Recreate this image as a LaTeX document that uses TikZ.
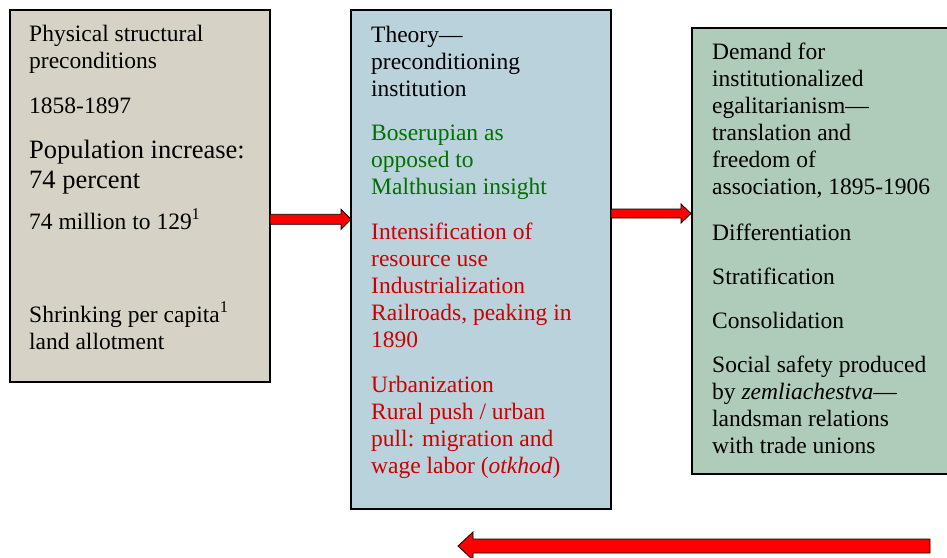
\documentclass[tikz,border=0pt]{standalone}
\usepackage{fontspec}
\setmainfont{LiberationSerif}[Extension=.ttf, UprightFont=*-Regular, ItalicFont=*-Italic, BoldFont=*-Bold, BoldItalicFont=*-BoldItalic]
\definecolor{physfill}{RGB}{214,211,198}
\definecolor{theofill}{RGB}{185,210,219}
\definecolor{demfill}{RGB}{175,203,185}
\definecolor{theogreen}{RGB}{0,112,0}
\definecolor{theored}{RGB}{204,0,0}
\definecolor{arrowred}{RGB}{255,0,0}

% horizontal block arrow: tail x, tip x, centre y, half body, half head, head length (signed)
\newcommand\hblockarrow[6]{%
  \draw[blockarrow] (#1,#3-#4) -- (#2-#6,#3-#4) -- (#2-#6,#3-#5) -- (#2,#3)
    -- (#2-#6,#3+#5) -- (#2-#6,#3+#4) -- (#1,#3+#4) -- cycle;}

\begin{document}
\begin{tikzpicture}[x=1pt,y=-1pt,
  panel/.style={draw=black, line width=1.5pt, inner sep=0pt, anchor=north west},
  txt/.style={anchor=base west, inner sep=0pt, font=\fontsize{23.5}{27}\selectfont, text=black},
  bigtxt/.style={txt, font=\fontsize{26.5}{30}\selectfont},
  greentxt/.style={txt, text=theogreen},
  redtxt/.style={txt, text=theored},
  blockarrow/.style={fill=arrowred, draw=black, line width=0.8pt, line join=miter}]
\clip (0,0) rectangle (947,557);
\fill[white] (0,0) rectangle (947,557);

% panels
\node[panel, fill=physfill, minimum width=260pt, minimum height=372pt] (phys) at (9,9) {};
\node[panel, fill=theofill, minimum width=260pt, minimum height=499pt] (theory) at (350,9) {};
\node[panel, fill=demfill, minimum width=300pt, minimum height=446pt] (demand) at (691,27) {};

% left panel text
\node[txt] (p1) at (29,41) {Physical structural};
\node[txt] (p2) at (29,68) {preconditions};
\node[txt] (p3) at (29,113) {1858-1897};
\node[bigtxt] (p4) at (29,158) {Population increase:};
\node[bigtxt] (p5) at (29,188) {74 percent};
\node[txt] (p6) at (29,229) {74 million to 129\textsuperscript{1}};
\node[txt] (p7) at (29,322) {Shrinking per capita\textsuperscript{1}};
\node[txt] (p8) at (29,349) {land allotment};

% middle panel text
\node[txt] (m1) at (371,42) {Theory---};
\node[txt] (m2) at (371,69) {preconditioning};
\node[txt] (m3) at (371,96) {institution};
\node[greentxt] (m4) at (371,140) {Boserupian as};
\node[greentxt] (m5) at (371,167) {opposed to};
\node[greentxt] (m6) at (371,194) {Malthusian insight};
\node[redtxt] (m7) at (371,239) {Intensification of};
\node[redtxt] (m8) at (371,266) {resource use};
\node[redtxt] (m9) at (371,293) {Industrialization};
\node[redtxt] (m10) at (371,320) {Railroads, peaking in};
\node[redtxt] (m11) at (371,347) {1890};
\node[redtxt] (m12) at (371,392) {Urbanization};
\node[redtxt] (m13) at (371,419) {Rural push / urban};
\node[redtxt] (m14) at (371,446) {pull: migration and};
\node[redtxt] (m15) at (371,473) {wage labor (\textit{otkhod})};

% right panel text
\node[txt] (r1) at (712,59) {Demand for};
\node[txt] (r2) at (712,86) {institutionalized};
\node[txt] (r3) at (712,113) {egalitarianism---};
\node[txt] (r4) at (712,140) {translation and};
\node[txt] (r5) at (712,167) {freedom of};
\node[txt] (r6) at (712,194) {association, 1895-1906};
\node[txt] (r7) at (712,240) {Differentiation};
\node[txt] (r8) at (712,284) {Stratification};
\node[txt] (r9) at (712,328) {Consolidation};
\node[txt] (r10) at (712,372) {Social safety produced};
\node[txt] (r11) at (712,399) {by \textit{zemliachestva}---};
\node[txt] (r12) at (712,426) {landsman relations};
\node[txt] (r13) at (712,453) {with trade unions};

% block arrows
\hblockarrow{270}{351}{219.3}{5}{10}{10}
\hblockarrow{611}{691}{213.5}{4.5}{9.5}{10}
\hblockarrow{930}{458}{546}{7}{14}{-15}
\end{tikzpicture}
\end{document}
